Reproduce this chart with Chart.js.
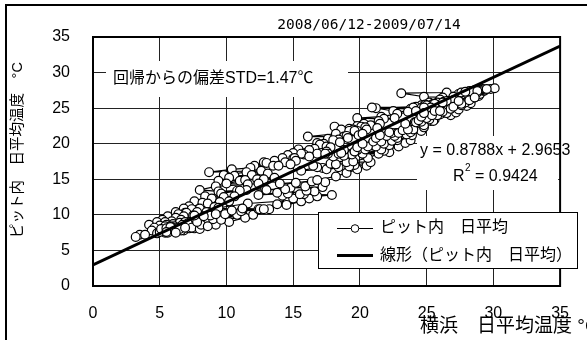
<!DOCTYPE html>
<html>
<head>
<meta charset="utf-8">
<script src="https://cdn.jsdelivr.net/npm/chart.js@4/dist/chart.umd.min.js"></script>
<style>
  html, body { margin: 0; padding: 0; background: #fff; }
  #wrap { width: 587px; height: 340px; position: relative; }
</style>
</head>
<body>
<div id="wrap"><canvas id="chart" width="587" height="340"></canvas></div>
<script>
// Daily mean temperature, Yokohama (x) vs. inside the pit (y), 2008/06/12 - 2009/07/14
const yokohamaDaily = [
  // 2008 Jun 12-30
  21.5, 22.2, 20.2, 21.8, 22.9, 23.4, 21.5, 19.8, 22.2, 23.8, 22.6, 21.0, 22.8, 23.9, 24.6, 22.7, 22.2, 23.5, 24.8,
  // Jul
  24.0, 24.5, 25.3, 24.1, 25.6, 26.8, 27.2, 26.0, 25.1, 26.5, 27.4, 28.0, 27.6, 28.3, 27.9, 26.8, 27.5, 28.2, 28.6, 28.9,
  28.4, 29.0, 28.7, 28.1, 28.8, 29.3, 28.5, 27.4, 28.0, 28.6, 29.1,
  // Aug
  29.4, 29.8, 30.1, 29.2, 28.6, 29.0, 28.4, 28.9, 29.5, 28.7, 28.2, 27.6, 28.4, 28.8, 27.9, 26.5, 23.1, 24.8, 26.2, 27.0,
  26.0, 25.2, 24.6, 25.4, 26.2, 25.5, 24.8, 26.0, 26.8, 26.3, 27.0,
  // Sep
  26.5, 25.8, 24.9, 25.6, 26.2, 25.0, 24.2, 21.2, 23.8, 24.6, 25.3, 24.8, 24.0, 20.9, 22.5, 23.6, 24.2, 22.8, 21.6, 19.8,
  21.8, 22.6, 21.4, 20.3, 19.8, 20.8, 21.5, 20.1, 19.2, 18.6,
  // Oct
  19.5, 20.4, 18.1, 18.6, 19.8, 19.2, 20.5, 21.3, 19.6, 18.2, 16.1, 18.8, 19.9, 20.2, 19.0, 17.6, 18.4, 19.1, 18.0, 16.8,
  17.3, 18.5, 17.0, 17.5, 15.4, 16.6, 17.8, 16.2, 15.0, 14.6, 15.8,
  // Nov
  16.8, 17.5, 15.6, 14.2, 15.0, 16.2, 15.1, 13.6, 12.8, 14.4, 15.2, 13.0, 12.1, 13.5, 14.8, 13.9, 11.8, 10.4, 8.7, 12.6,
  11.5, 9.8, 10.6, 12.0, 13.1, 11.9, 10.2, 9.4, 11.0, 12.3,
  // Dec
  12.8, 13.6, 11.4, 10.0, 11.6, 12.4, 9.2, 8.0, 9.4, 10.8, 11.5, 12.9, 11.0, 9.6, 8.4, 9.8, 10.6, 8.9, 7.6, 8.2,
  9.5, 10.2, 8.6, 7.2, 6.8, 8.0, 9.1, 7.4, 6.2, 6.9, 7.8,
  // 2009 Jan
  7.0, 6.4, 5.6, 6.8, 7.5, 6.2, 5.2, 4.8, 5.9, 6.6, 5.4, 4.2, 5.0, 6.0, 7.2, 6.5, 5.5, 4.6, 5.3, 6.1,
  7.4, 8.2, 6.9, 5.8, 4.4, 3.5, 3.2, 3.9, 4.8, 5.6, 5.4,
  // Feb
  6.8, 7.6, 5.9, 5.0, 5.6, 6.6, 7.2, 8.0, 7.0, 6.2, 7.5, 8.4, 9.6, 10.8, 8.6, 6.9, 5.4, 5.1, 6.0, 7.3,
  8.1, 6.7, 5.5, 6.4, 7.7, 8.5, 7.1, 5.8,
  // Mar
  6.5, 7.4, 5.5, 6.2, 8.0, 9.2, 8.1, 6.9, 8.6, 10.2, 11.4, 9.0, 7.8, 9.6, 12.0, 13.2, 11.2, 9.8, 12.4, 13.8,
  14.6, 11.6, 9.4, 8.5, 7.6, 8.8, 10.0, 9.2, 8.3, 9.9, 11.1,
  // Apr
  12.5, 11.2, 10.4, 12.8, 14.5, 15.6, 16.2, 15.0, 16.8, 17.9, 15.8, 14.2, 15.5, 16.6, 13.8, 12.4, 14.6, 16.0, 17.2, 14.8,
  13.0, 14.4, 15.9, 17.4, 16.4, 14.0, 15.2, 16.8, 18.2, 19.0,
  // May
  19.8, 20.5, 18.6, 17.2, 18.4, 19.6, 16.8, 15.6, 17.5, 19.2, 20.8, 19.0, 17.8, 16.5, 18.2, 19.5, 20.6, 21.4, 19.4, 18.0,
  18.8, 20.2, 21.6, 19.8, 17.6, 18.4, 19.6, 20.4, 18.8, 17.4, 18.6,
  // Jun
  19.6, 20.4, 21.2, 19.8, 20.6, 21.8, 22.4, 21.0, 20.2, 21.6, 22.8, 23.5, 22.0, 21.2, 22.6, 23.8, 22.4, 21.5, 22.9, 24.0,
  23.2, 22.2, 23.6, 24.8, 25.5, 24.6, 23.4, 24.2, 25.2, 24.4,
  // Jul 1-14
  25.0, 25.8, 24.6, 25.4, 26.2, 26.8, 25.6, 24.8, 26.0, 27.0, 27.6, 28.2, 27.4, 28.6
];

const pitDaily = [
  // 2008 Jun 12-30
  19.0, 18.8, 18.6, 19.0, 19.6, 20.1, 20.0, 19.5, 19.8, 20.5, 20.6, 20.2, 20.5, 21.2, 21.8, 21.5, 21.1, 21.7, 22.3,
  // Jul
  22.6, 22.9, 23.2, 23.0, 23.4, 24.0, 24.4, 24.1, 23.8, 24.3, 24.8, 25.3, 25.4, 25.7, 25.8, 25.6, 25.9, 26.2, 26.5, 26.7,
  26.8, 27.0, 27.1, 27.0, 27.2, 27.4, 27.3, 27.0, 27.1, 27.3, 27.5,
  // Aug
  27.6, 27.7, 27.8, 27.7, 27.5, 27.6, 27.4, 27.5, 27.7, 27.6, 27.4, 27.2, 27.3, 27.4, 27.3, 27.2, 27.1, 26.6, 26.5, 26.6,
  26.2, 25.8, 25.4, 25.5, 25.8, 25.6, 25.3, 25.6, 26.0, 25.9, 26.1,
  // Sep
  26.0, 25.8, 25.5, 25.6, 25.8, 25.4, 25.2, 25.0, 24.9, 25.0, 25.1, 25.1, 25.1, 25.1, 24.6, 24.5, 24.6, 24.2, 23.8, 23.6,
  23.5, 23.6, 23.2, 22.8, 22.5, 22.6, 22.8, 22.4, 22.1, 21.9,
  // Oct
  22.0, 22.3, 22.4, 22.0, 21.8, 21.8, 22.0, 22.2, 21.8, 21.4, 21.0, 21.0, 21.2, 21.4, 21.1, 20.7, 20.6, 20.8, 20.5, 20.1,
  20.0, 20.2, 19.9, 19.6, 19.2, 19.3, 19.5, 19.1, 18.7, 18.4, 18.5,
  // Nov
  18.6, 18.9, 18.6, 18.0, 17.9, 18.2, 18.0, 17.6, 17.4, 17.4, 17.6, 17.3, 16.9, 16.9, 17.1, 16.9, 16.6, 16.4, 16.0, 16.2,
  16.0, 15.6, 15.5, 15.6, 15.8, 15.6, 15.2, 14.8, 14.8, 15.0,
  // Dec
  15.0, 15.2, 14.9, 14.4, 14.3, 14.4, 14.0, 13.5, 13.3, 13.4, 13.5, 13.7, 13.4, 13.0, 12.6, 12.5, 12.6, 12.3, 11.9, 11.7,
  11.8, 11.9, 11.6, 11.2, 10.9, 10.9, 11.1, 10.8, 10.4, 10.3, 10.4,
  // 2009 Jan
  10.3, 10.1, 9.8, 9.8, 9.9, 9.6, 9.3, 9.0, 9.1, 9.3, 9.0, 8.6, 8.5, 8.7, 9.0, 8.9, 8.6, 8.2, 8.2, 8.4,
  8.8, 9.1, 8.9, 8.4, 7.8, 7.2, 6.9, 7.2, 7.4, 7.6, 7.5,
  // Feb
  7.8, 8.1, 8.0, 7.6, 7.5, 7.8, 8.1, 8.5, 8.4, 8.1, 8.4, 8.8, 9.4, 10.0, 9.7, 9.0, 8.4, 8.0, 8.1, 8.5,
  8.9, 8.6, 8.1, 8.2, 8.6, 9.0, 8.8, 8.3,
  // Mar
  8.0, 8.2, 7.6, 7.5, 8.0, 8.6, 8.6, 8.2, 8.4, 9.0, 9.6, 9.4, 9.0, 9.3, 10.0, 10.8, 10.6, 10.3, 10.8, 11.5,
  12.0, 11.6, 11.0, 10.4, 9.9, 9.9, 10.2, 10.1, 9.8, 10.1, 10.5,
  // Apr
  10.8, 10.9, 10.6, 10.8, 11.4, 11.9, 12.3, 12.3, 12.6, 12.8, 12.9, 12.7, 12.9, 13.3, 13.1, 12.8, 13.0, 13.4, 13.9, 13.8,
  13.5, 13.6, 14.0, 14.6, 14.7, 14.4, 14.5, 14.9, 15.4, 15.9,
  // May
  16.4, 16.9, 16.9, 16.6, 16.7, 17.0, 16.7, 16.2, 16.4, 16.8, 17.4, 17.4, 17.2, 16.9, 17.1, 17.5, 18.0, 18.6, 18.5, 18.2,
  18.3, 18.6, 19.2, 19.1, 18.6, 18.6, 18.9, 19.3, 19.1, 18.6, 18.7,
  // Jun
  18.9, 19.2, 19.6, 19.5, 19.6, 20.0, 20.4, 20.3, 20.0, 20.3, 20.8, 21.3, 21.1, 20.8, 21.1, 21.6, 21.5, 21.2, 21.5, 22.0,
  21.9, 21.6, 22.0, 22.6, 23.2, 23.1, 22.8, 23.0, 23.4, 23.3,
  // Jul 1-14
  23.6, 24.0, 23.8, 24.0, 24.5, 24.9, 24.6, 24.3, 24.6, 25.2, 25.6, 26.1, 26.0, 26.5
];

// Linear fit of pit temperature on outdoor temperature
const fitSlope = 0.8788;
const fitIntercept = 2.9653;
const fitR2 = 0.9424;
const residualStd = 1.47;

const axisMin = 0;
const axisMax = 35;
const tickStep = 5;

const periodLabel = '2008/06/12-2009/07/14';
const xAxisTitle = '横浜　日平均温度 °C';
const yAxisTitle = 'ピット内　日平均温度　°C';
const seriesName = 'ピット内　日平均';
const trendName = '線形（ピット内　日平均）';

const LATIN = '"Liberation Sans", Arial, "Noto Sans CJK JP", sans-serif';
const MONO = '"DejaVu Sans Mono", "Liberation Mono", monospace';

const points = yokohamaDaily.map((x, i) => ({ x, y: pitDaily[i] }));
const trend = [axisMin, axisMax].map(x => ({ x, y: fitSlope * x + fitIntercept }));

const decor = {
  id: 'decor',
  beforeDatasetsDraw(chart) {
    const { ctx, chartArea: a } = chart;
    ctx.save();
    // note box with the residual spread
    ctx.fillStyle = '#fff';
    ctx.fillRect(106, 61, 242, 36);
    ctx.fillStyle = '#000';
    ctx.font = `16px ${LATIN}`;
    ctx.textAlign = 'left';
    ctx.textBaseline = 'middle';
    ctx.fillText(`回帰からの偏差STD=${residualStd.toFixed(2)}℃`, 113, 79);

    // regression equation box
    ctx.fillStyle = '#fff';
    ctx.fillRect(417, 136, a.right - 419, 54);
    ctx.fillStyle = '#000';
    ctx.font = `16px ${LATIN}`;
    ctx.fillText(`y = ${fitSlope.toFixed(4)}x + ${fitIntercept.toFixed(4)}`, 420, 151);
    ctx.fillText('R', 453, 177);
    const rw = ctx.measureText('R').width;
    ctx.font = `10px ${LATIN}`;
    ctx.fillText('2', 453 + rw + 0.5, 168);
    ctx.font = `16px ${LATIN}`;
    ctx.fillText(` = ${fitR2.toFixed(4)}`, 453 + rw + 6, 177);

    // plot frame
    ctx.strokeStyle = '#000';
    ctx.lineWidth = 2;
    ctx.strokeRect(a.left, a.top, a.right - a.left, a.bottom - a.top);
    ctx.restore();
  },
  afterDraw(chart) {
    const { ctx } = chart;
    ctx.save();
    ctx.fillStyle = '#000';

    // period
    ctx.font = `14.5px ${MONO}`;
    ctx.textAlign = 'center';
    ctx.textBaseline = 'middle';
    ctx.fillText(periodLabel, 369, 25);

    // axis titles
    ctx.font = `19px ${LATIN}`;
    ctx.textAlign = 'left';
    ctx.fillText(xAxisTitle, 420, 327);

    ctx.save();
    ctx.translate(18, 150);
    ctx.rotate(-Math.PI / 2);
    ctx.font = `14.5px ${LATIN}`;
    ctx.textAlign = 'center';
    ctx.fillText(yAxisTitle, 0, 0);
    ctx.restore();

    // legend
    const lx = 318, ly = 212, lw = 260, lh = 57;
    ctx.fillStyle = '#fff';
    ctx.fillRect(lx, ly, lw, lh);
    ctx.strokeStyle = '#000';
    ctx.lineWidth = 1;
    ctx.strokeRect(lx + 0.5, ly + 0.5, lw - 1, lh - 1);

    ctx.beginPath();
    ctx.moveTo(337, 228.5);
    ctx.lineTo(373, 228.5);
    ctx.stroke();
    ctx.beginPath();
    ctx.arc(355, 228.5, 3.8, 0, Math.PI * 2);
    ctx.fillStyle = '#fff';
    ctx.fill();
    ctx.stroke();

    ctx.lineWidth = 3;
    ctx.beginPath();
    ctx.moveTo(337, 255.5);
    ctx.lineTo(373, 255.5);
    ctx.stroke();

    ctx.fillStyle = '#000';
    ctx.font = `16px ${LATIN}`;
    ctx.textAlign = 'left';
    ctx.textBaseline = 'middle';
    ctx.fillText(seriesName, 380, 228);
    ctx.fillText(trendName, 380, 256);

    // outer frame
    ctx.fillRect(5, 4, 2, 336);
    ctx.fillRect(5, 4, 582, 2);
    ctx.restore();
  }
};

new Chart(document.getElementById('chart'), {
  type: 'scatter',
  data: {
    datasets: [
      {
        label: seriesName,
        data: points,
        showLine: true,
        tension: 0,
        borderColor: '#000',
        borderWidth: 1.2,
        pointRadius: 4.4,
        pointBorderWidth: 1.2,
        pointBackgroundColor: '#fff',
        pointBorderColor: '#000',
        order: 1
      },
      {
        label: trendName,
        data: trend,
        showLine: true,
        borderColor: '#000',
        borderWidth: 2.8,
        pointRadius: 0,
        order: 0
      }
    ]
  },
  options: {
    responsive: false,
    animation: false,
    devicePixelRatio: 1,
    layout: { padding: { left: 0, top: 37, right: 10, bottom: 0 } },
    plugins: {
      legend: { display: false },
      title: { display: false },
      tooltip: { enabled: false }
    },
    scales: {
      x: {
        type: 'linear',
        min: axisMin,
        max: axisMax,
        ticks: { stepSize: tickStep, color: '#000', font: { family: LATIN, size: 16 }, padding: 18, maxRotation: 0 },
        grid: { color: '#222', lineWidth: 1, drawTicks: false },
        border: { display: false },
        afterFit(scale) { scale.height = 54; }
      },
      y: {
        type: 'linear',
        min: axisMin,
        max: axisMax,
        ticks: { stepSize: tickStep, color: '#000', font: { family: LATIN, size: 16 }, padding: 23 },
        grid: { color: '#222', lineWidth: 1, drawTicks: false },
        border: { display: false },
        afterFit(scale) { scale.width = 93; }
      }
    }
  },
  plugins: [decor]
});
</script>
</body>
</html>
